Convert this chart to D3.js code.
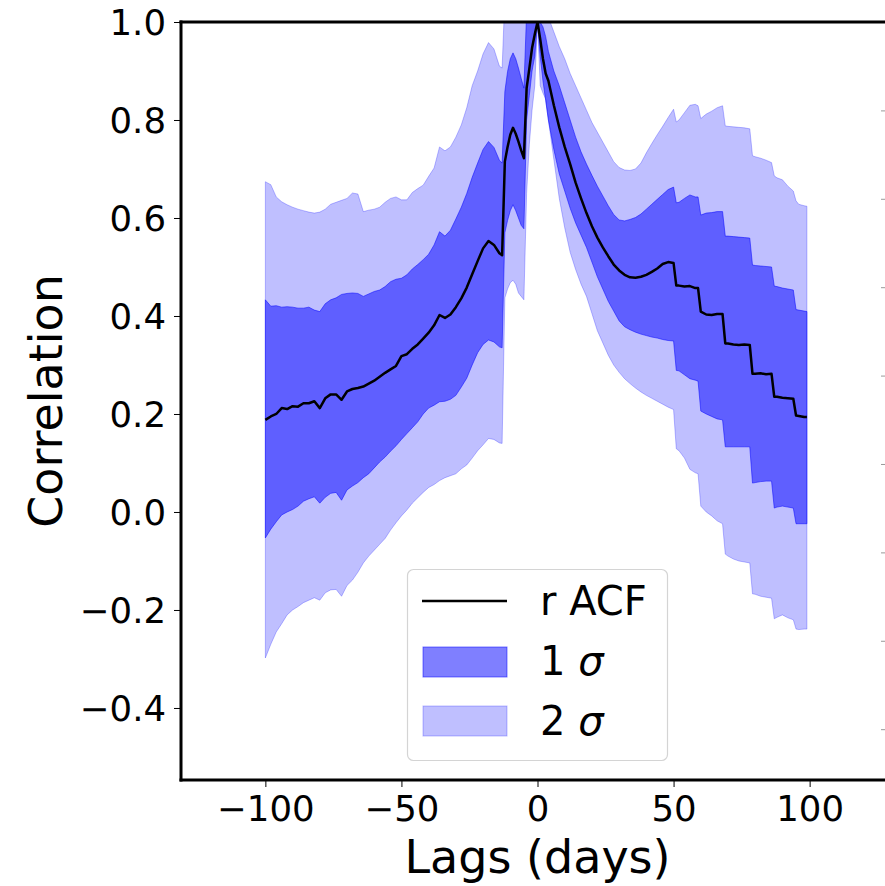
<!DOCTYPE html>
<html>
<head>
<meta charset="utf-8">
<script src="https://cdn.jsdelivr.net/npm/d3@7"></script>
<style>
  html, body { margin: 0; padding: 0; background: #ffffff; }
  svg { display: block; font-family: "DejaVu Sans", sans-serif; }
</style>
</head>
<body>
<svg id="chart" width="885" height="886"></svg>
<script>
// ---------------- data ----------------
const lags = [
  -100,-98,-96,-94,-92,-90,-88,-86,-84,-82,
  -80,-78,-76,-74,-72,-70,-68,-66,-64,-62,
  -60,-58,-56,-54,-52,-50,-48,-46,-44,-42,
  -40,-38,-36,-34,-32,-30,-28,-26,-24,-22,
  -20,-18,-16,-14,-13,-12,-11,-10,-9,-8,
  -7,-6,-5,-4,-3,-2,-1,0,1,2,
  3,4,6,8,10,12,14,16,18,20,
  22,24,26,28,30,32,34,36,38,40,
  42,44,46,48,50,51,52,54,56,58,
  59,60,62,64,66,68,69,70,72,74,
  76,78,79,80,82,84,86,87,88,90,
  92,94,95,96,98,99
];

const acf = [
  0.188,0.195,0.200,0.212,0.210,0.216,0.215,0.222,0.222,0.226,
  0.212,0.232,0.240,0.240,0.229,0.246,0.251,0.253,0.256,0.262,
  0.268,0.276,0.284,0.291,0.298,0.318,0.322,0.333,0.342,0.354,
  0.366,0.381,0.402,0.396,0.403,0.418,0.436,0.458,0.485,0.512,
  0.538,0.553,0.545,0.528,0.524,0.715,0.745,0.770,0.784,0.772,
  0.756,0.738,0.722,0.865,0.905,0.947,0.975,1.000,0.965,0.925,
  0.895,0.880,0.830,0.785,0.745,0.710,0.672,0.640,0.610,0.583,
  0.560,0.540,0.522,0.505,0.493,0.484,0.479,0.478,0.480,0.484,
  0.490,0.497,0.506,0.510,0.508,0.462,0.462,0.460,0.461,0.457,
  0.457,0.409,0.403,0.402,0.404,0.404,0.344,0.344,0.342,0.341,
  0.342,0.341,0.282,0.282,0.283,0.281,0.282,0.235,0.235,0.233,
  0.232,0.231,0.197,0.196,0.194,0.194
];

const sig1Hi = [
  0.433,0.420,0.421,0.418,0.419,0.418,0.416,0.416,0.418,0.412,
  0.409,0.425,0.433,0.437,0.444,0.446,0.447,0.446,0.440,0.445,
  0.450,0.453,0.460,0.470,0.475,0.477,0.484,0.496,0.505,0.515,
  0.526,0.545,0.572,0.563,0.575,0.598,0.622,0.650,0.683,0.712,
  0.740,0.756,0.744,0.718,0.712,0.858,0.899,0.925,0.937,0.925,
  0.906,0.885,0.865,1.020,1.030,1.030,1.020,1.000,1.000,0.990,
  0.970,0.940,0.900,0.870,0.835,0.800,0.765,0.735,0.710,0.687,
  0.665,0.645,0.625,0.607,0.596,0.594,0.597,0.601,0.608,0.618,
  0.628,0.638,0.648,0.658,0.663,0.631,0.632,0.640,0.647,0.643,
  0.643,0.606,0.610,0.611,0.613,0.613,0.563,0.563,0.562,0.561,
  0.560,0.559,0.504,0.503,0.502,0.501,0.500,0.461,0.460,0.457,
  0.455,0.453,0.413,0.412,0.410,0.409
];

const sig1Lo = [
  -0.053,-0.035,-0.020,-0.006,0.000,0.005,0.012,0.022,0.027,0.031,
  0.018,0.030,0.038,0.040,0.024,0.045,0.053,0.060,0.070,0.078,
  0.090,0.102,0.112,0.124,0.135,0.148,0.160,0.172,0.184,0.200,
  0.212,0.218,0.225,0.226,0.230,0.238,0.255,0.273,0.300,0.325,
  0.342,0.351,0.347,0.337,0.335,0.570,0.595,0.615,0.627,0.615,
  0.600,0.585,0.578,0.800,0.850,0.900,0.930,1.000,0.930,0.880,
  0.840,0.800,0.740,0.690,0.655,0.620,0.590,0.565,0.540,0.510,
  0.480,0.455,0.430,0.410,0.390,0.378,0.372,0.367,0.363,0.360,
  0.357,0.355,0.352,0.350,0.349,0.289,0.288,0.280,0.272,0.269,
  0.267,0.206,0.200,0.195,0.190,0.188,0.133,0.133,0.133,0.133,
  0.133,0.133,0.059,0.060,0.062,0.063,0.063,0.008,0.010,0.012,
  0.010,0.008,-0.024,-0.024,-0.024,-0.024
];

const sig2Hi = [
  0.674,0.668,0.643,0.633,0.627,0.622,0.618,0.615,0.612,0.610,
  0.612,0.618,0.628,0.632,0.636,0.640,0.651,0.649,0.613,0.616,
  0.618,0.622,0.632,0.640,0.643,0.637,0.637,0.652,0.660,0.667,
  0.685,0.702,0.745,0.737,0.745,0.765,0.790,0.825,0.870,0.900,
  0.935,0.958,0.945,0.910,0.906,1.050,1.050,1.050,1.050,1.050,
  1.050,1.050,1.050,1.050,1.050,1.050,1.050,1.050,1.050,1.050,
  1.030,1.010,0.980,0.950,0.925,0.895,0.870,0.845,0.820,0.795,
  0.775,0.755,0.735,0.715,0.703,0.698,0.697,0.700,0.712,0.733,
  0.752,0.770,0.787,0.805,0.822,0.796,0.800,0.815,0.830,0.832,
  0.829,0.803,0.812,0.818,0.825,0.829,0.788,0.787,0.786,0.785,
  0.784,0.782,0.727,0.725,0.722,0.718,0.713,0.686,0.682,0.678,
  0.665,0.655,0.635,0.628,0.625,0.624
];

const sig2Lo = [
  -0.298,-0.270,-0.245,-0.228,-0.210,-0.200,-0.193,-0.185,-0.180,-0.175,
  -0.180,-0.165,-0.159,-0.158,-0.172,-0.150,-0.139,-0.123,-0.104,-0.090,
  -0.078,-0.066,-0.054,-0.037,-0.022,-0.008,0.004,0.018,0.029,0.040,
  0.050,0.056,0.064,0.070,0.074,0.078,0.088,0.096,0.110,0.125,
  0.137,0.150,0.148,0.141,0.140,0.437,0.455,0.468,0.473,0.465,
  0.447,0.440,0.433,0.650,0.750,0.820,0.870,1.000,0.870,0.855,
  0.843,0.800,0.720,0.640,0.580,0.530,0.495,0.465,0.440,0.405,
  0.370,0.345,0.320,0.300,0.285,0.272,0.262,0.253,0.245,0.238,
  0.232,0.226,0.220,0.214,0.209,0.129,0.125,0.110,0.087,0.080,
  0.078,0.012,0.000,-0.008,-0.018,-0.024,-0.086,-0.090,-0.096,-0.100,
  -0.102,-0.104,-0.167,-0.168,-0.172,-0.174,-0.176,-0.218,-0.215,-0.210,
  -0.216,-0.220,-0.239,-0.240,-0.239,-0.239
];

const xTicks = [-100, -50, 0, 50, 100];
const xTickLabels = ["\u2212100", "\u221250", "0", "50", "100"];
const yTicks = [1.0, 0.8, 0.6, 0.4, 0.2, 0.0, -0.2, -0.4];
const yTickLabels = ["1.0", "0.8", "0.6", "0.4", "0.2", "0.0", "\u22120.2", "\u22120.4"];
const neighbourTicks = [0.8, 0.6, 0.4, 0.2, 0.0, -0.2, -0.4, -0.6];
const legendLabels = ["r ACF", "1", "2"];
const xTitle = "Lags (days)";
const yTitle = "Correlation";

// ---------------- drawing ----------------
const svg = d3.select("#chart");
svg.append("rect").attr("width", 885).attr("height", 886).attr("fill", "#fff");

const x = d3.scaleLinear().domain([-131, 131]).range([181, 894]);
const y = d3.scaleLinear().domain([-0.547, 1.0]).range([780, 22]);
const yNeighbour = d3.scaleLinear().domain([-0.715, 1.0]).range([780, 22]);

const rows = lags.map((l, i) => ({
  lag: l, r: acf[i], h1: sig1Hi[i], l1: sig1Lo[i], h2: sig2Hi[i], l2: sig2Lo[i]
}));

svg.append("defs").append("clipPath").attr("id", "plotclip")
  .append("rect").attr("x", 181).attr("y", 22).attr("width", 713).attr("height", 758);

const plot = svg.append("g").attr("clip-path", "url(#plotclip)");

const area2 = d3.area().x(d => x(d.lag)).y0(d => y(d.l2)).y1(d => y(d.h2));
const area1 = d3.area().x(d => x(d.lag)).y0(d => y(d.l1)).y1(d => y(d.h1));
const line = d3.line().x(d => x(d.lag)).y(d => y(d.r));

plot.append("path").datum(rows).attr("d", area2)
  .attr("fill", "blue").attr("fill-opacity", 0.25)
  .attr("stroke", "blue").attr("stroke-opacity", 0.25).attr("stroke-width", 1);
plot.append("path").datum(rows).attr("d", area1)
  .attr("fill", "blue").attr("fill-opacity", 0.5)
  .attr("stroke", "blue").attr("stroke-opacity", 0.5).attr("stroke-width", 1);
plot.append("path").datum(rows).attr("d", line)
  .attr("fill", "none").attr("stroke", "#000").attr("stroke-width", 2.5)
  .attr("stroke-linejoin", "round");

// axes
const xAxis = d3.axisBottom(x).tickValues(xTicks)
  .tickFormat((d, i) => xTickLabels[i]).tickSize(7).tickPadding(8);
const gx = svg.append("g").attr("transform", "translate(0,780)").call(xAxis);
gx.select(".domain").remove();
gx.selectAll(".tick line").attr("stroke", "#000").attr("stroke-width", 1);
gx.selectAll(".tick text").attr("font-size", 35.5).attr("fill", "#000")
  .attr("font-family", "DejaVu Sans").attr("y", 0).attr("dy", 0)
  .attr("transform", "translate(0,41)");

const yAxis = d3.axisLeft(y).tickValues(yTicks)
  .tickFormat((d, i) => yTickLabels[i]).tickSize(7).tickPadding(8);
const gy = svg.append("g").attr("transform", "translate(181,0)").call(yAxis);
gy.select(".domain").remove();
gy.selectAll(".tick line").attr("stroke", "#000").attr("stroke-width", 1);
gy.selectAll(".tick text").attr("font-size", 35.5).attr("fill", "#000")
  .attr("font-family", "DejaVu Sans").attr("dy", "0.36em");

// faint ticks of the neighbouring panel at the right border
const gn = svg.append("g").attr("transform", "translate(885,0)")
  .call(d3.axisLeft(yNeighbour).tickValues(neighbourTicks).tickSize(4).tickFormat(""));
gn.select(".domain").remove();
gn.selectAll(".tick line").attr("stroke", "#999").attr("stroke-width", 1);

// spines
const spines = svg.append("g").attr("stroke", "#000").attr("stroke-width", 3).attr("fill", "none");
spines.append("line").attr("x1", x(-131)).attr("x2", x(-131)).attr("y1", y(1.0) - 1.5).attr("y2", y(-0.547) + 1.5);
spines.append("line").attr("x1", x(-131) - 1.5).attr("x2", x(131)).attr("y1", y(1.0)).attr("y2", y(1.0));
spines.append("line").attr("x1", x(-131) - 1.5).attr("x2", x(131)).attr("y1", y(-0.547)).attr("y2", y(-0.547));
spines.append("line").attr("x1", x(131)).attr("x2", x(131)).attr("y1", y(1.0)).attr("y2", y(-0.547));

// axis titles
svg.append("text").attr("x", (x(-131) + x(131)) / 2).attr("y", 873)
  .attr("text-anchor", "middle").attr("font-size", 46).attr("fill", "#000").text(xTitle);
svg.append("text").attr("transform", `translate(62,${(y(1.0) + y(-0.547)) / 2}) rotate(-90)`)
  .attr("text-anchor", "middle").attr("font-size", 46).attr("fill", "#000").text(yTitle);

// legend
const lg = svg.append("g");
lg.append("rect").attr("x", 407.5).attr("y", 569.5).attr("width", 260).attr("height", 191)
  .attr("rx", 6).attr("fill", "#fff").attr("fill-opacity", 0.8)
  .attr("stroke", "#d4d4d4").attr("stroke-width", 1.2);
lg.append("line").attr("x1", 422).attr("x2", 507).attr("y1", 601).attr("y2", 601)
  .attr("stroke", "#000").attr("stroke-width", 2.5);
lg.append("rect").attr("x", 423).attr("y", 647).attr("width", 84).attr("height", 30)
  .attr("fill", "blue").attr("fill-opacity", 0.5).attr("stroke", "blue").attr("stroke-opacity", 0.5);
lg.append("rect").attr("x", 423).attr("y", 706).attr("width", 84).attr("height", 30)
  .attr("fill", "blue").attr("fill-opacity", 0.25).attr("stroke", "blue").attr("stroke-opacity", 0.25);
const lt = lg.append("g").attr("font-size", 40).attr("fill", "#000");
lt.append("text").attr("x", 540).attr("y", 615).text(legendLabels[0]);
[[legendLabels[1], 675], [legendLabels[2], 735]].forEach(([lab, by]) => {
  const t = lt.append("text").attr("x", 540).attr("y", by);
  t.append("tspan").text(lab + " ");
  t.append("tspan").attr("font-style", "italic").text("\u03C3");
});
</script>
</body>
</html>
